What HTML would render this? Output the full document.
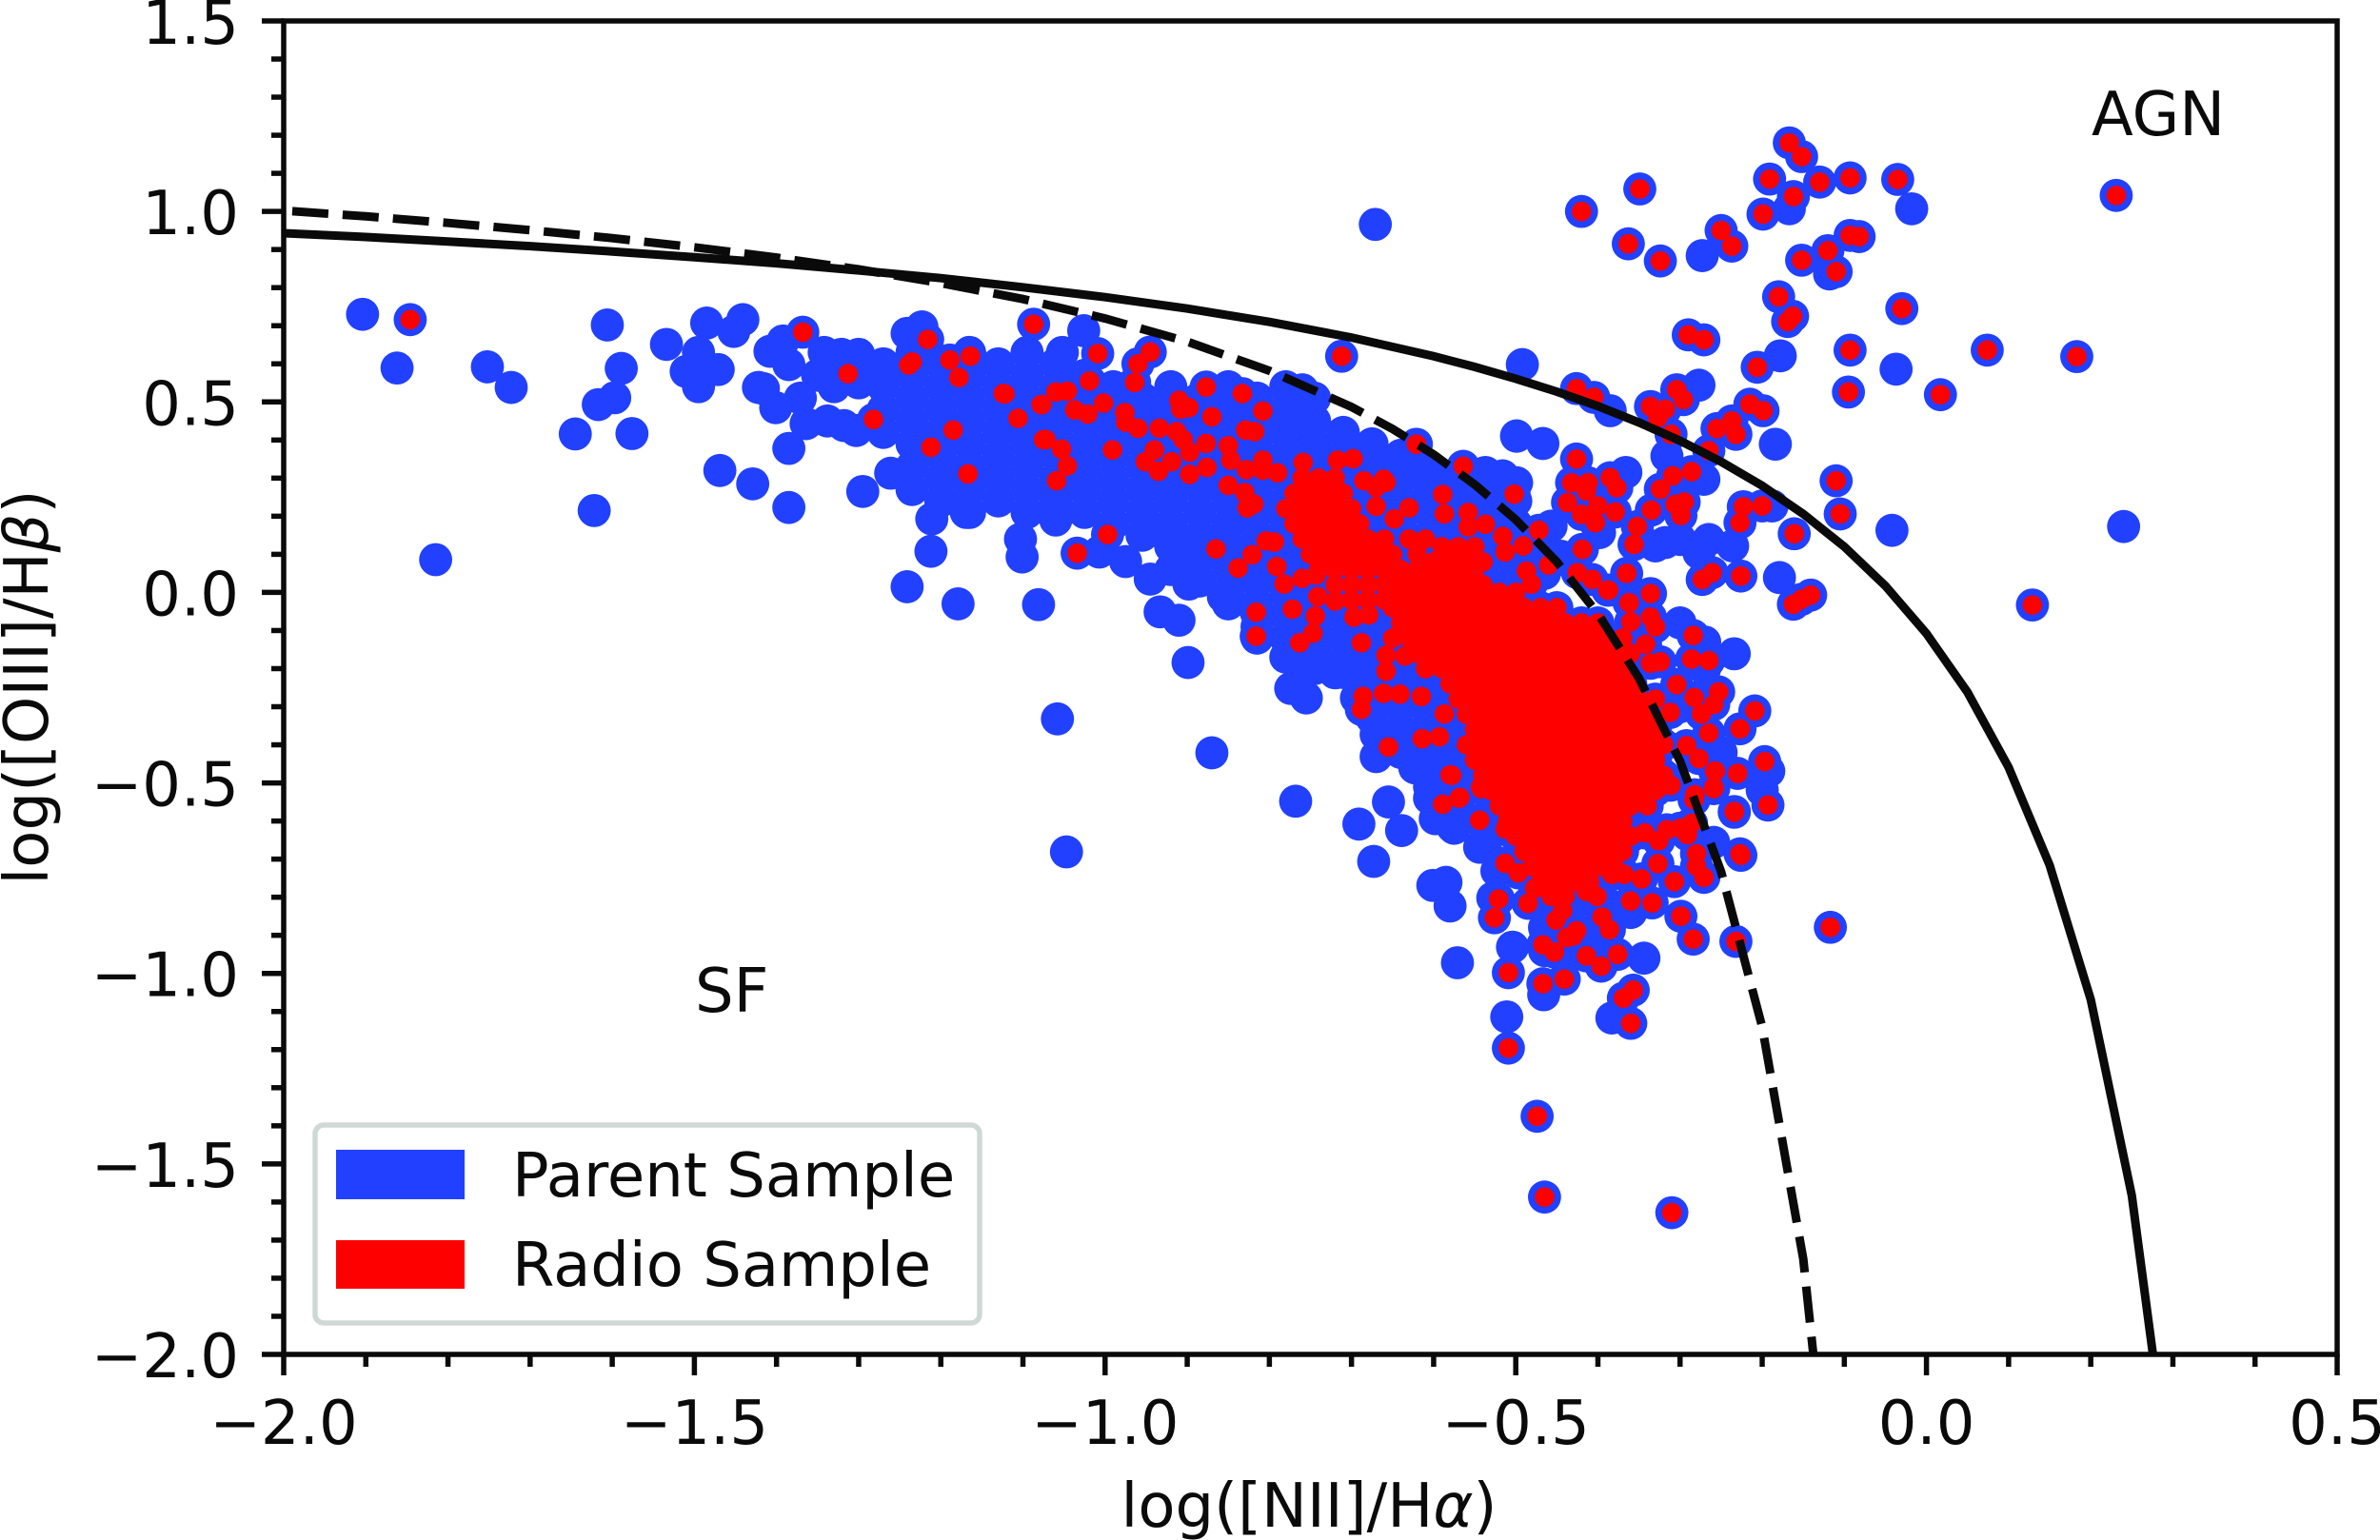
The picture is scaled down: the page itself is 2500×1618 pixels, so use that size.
<!DOCTYPE html>
<html lang="en">
<head>
<meta charset="utf-8">
<title>BPT diagram</title>
<style>
html,body{margin:0;padding:0;background:#fff;width:2500px;height:1618px;overflow:hidden;}
#stage{display:block;width:2500px;height:1618px;}
text{font-family:"DejaVu Sans","Liberation Sans",sans-serif;fill:#0a0a0a;font-size:64px;}
</style>
</head>
<body>
<svg id="stage" xmlns="http://www.w3.org/2000/svg" width="2500" height="1618" viewBox="0 0 2500 1618">
<defs><clipPath id="plot-clip"><rect x="298" y="22" width="2157" height="1401"/></clipPath></defs>
<rect x="0" y="0" width="2500" height="1618" fill="#fff"/>
<g id="parent-layer"></g>
<g id="radio-layer"></g>
<g id="curve-layer" clip-path="url(#plot-clip)"></g>
<g id="tick-layer"></g>
<rect x="298" y="22" width="2157" height="1401" fill="none" stroke="#0a0a0a" stroke-width="5.5"/>
<text x="1375" y="1604" text-anchor="middle">log([NII]/H<tspan font-style="italic">α</tspan>)</text>
<text transform="translate(50,722) rotate(-90)" text-anchor="middle">log([OIII]/H<tspan font-style="italic">β</tspan>)</text>
<text x="2197" y="142">AGN</text>
<text x="730" y="1063">SF</text>
<g>
<rect x="331" y="1182" width="698" height="208" rx="9" ry="9" fill="#fff" stroke="#d0d8d6" stroke-width="5.5"/>
<rect x="353" y="1208" width="135" height="52" fill="#2140ff"/>
<text x="538" y="1257">Parent Sample</text>
<rect x="353" y="1303" width="135" height="51" fill="#ff0000"/>
<text x="538" y="1351">Radio Sample</text>
</g>
</svg>
<script>
const xMajorTicks = [-2, -1.5, -1, -0.5, 0, 0.5];
const xTickLabels = ["−2.0", "−1.5", "−1.0", "−0.5", "0.0", "0.5"];
const xMinorTicks = [-1.9,-1.8,-1.7,-1.6,-1.4,-1.3,-1.2,-1.1,-0.9,-0.8,-0.7,-0.6,-0.4,-0.3,-0.2,-0.1,0.1,0.2,0.3,0.4];
const yMajorTicks = [-2, -1.5, -1, -0.5, 0, 0.5, 1, 1.5];
const yTickLabels = ["−2.0", "−1.5", "−1.0", "−0.5", "0.0", "0.5", "1.0", "1.5"];
const yMinorTicks = [-1.9,-1.8,-1.7,-1.6,-1.4,-1.3,-1.2,-1.1,-0.9,-0.8,-0.7,-0.6,-0.4,-0.3,-0.2,-0.1,0.1,0.2,0.3,0.4,0.6,0.7,0.8,0.9,1.1,1.2,1.3,1.4];

const kewleyX = [-2,-1.9,-1.8,-1.7,-1.6,-1.5,-1.4,-1.3,-1.2,-1.1,-1,-.9,-.8,-.7,-.6,-.55,-.5,-.45,-.4,-.35,-.3,-.25,-.2,-.15,-.1,-.05,0,.05,.1,.15,.2,.25,.288];
const kewleyY = [.943,.933,.921,.909,.895,.880,.864,.845,.825,.801,.775,.745,.710,.669,.620,.592,.561,.527,.489,.446,.398,.343,.280,.206,.120,.017,-.108,-.262,-.459,-.716,-1.069,-1.583,-2.2];
const kauffmannX = [-2,-1.9,-1.8,-1.7,-1.6,-1.5,-1.4,-1.3,-1.2,-1.1,-1,-.9,-.8,-.7,-.65,-.6,-.55,-.5,-.45,-.4,-.35,-.3,-.25,-.2,-.15,-.128];
const kauffmannY = [1.002,.987,.970,.951,.930,.906,.879,.848,.812,.770,.719,.658,.582,.487,.429,.362,.283,.191,.080,-.056,-.225,-.443,-.733,-1.140,-1.750,-2.2];

const parentOnlyPoints = [
[-1.904,.73],[-1.862,.589],[-1.752,.592],[-1.723,.538],[-1.606,.702],[-1.534,.651],[-1.485,.707],[-1.441,.716],[-1.452,.685],[-1.495,.63],[-1.51,.58],[-1.471,.585],[-1.495,.54],[-1.589,.588],[-1.597,.511],[-1.617,.493],[-1.645,.416],[-1.576,.417],[-1.469,.32],[-1.429,.285],[-1.385,.223],[-1.385,.378],[-1.622,.215],[-1.815,.086],[-1.295,.265],[-1.241,.015],[-1.179,-.03],[-1.081,-.032],[-1.212,.108],[-1.101,.093],[-1.103,.14],[-1.211,.193],[-1.169,.21],[-1.261,.313],[-1.408,.633],[-1.392,.66],[-1.385,.598],[-1.342,.63],[-1.321,.625],[-1.3,.625],[-1.422,.538],[-1.416,.535],[-1.401,.485],[-1.371,.51],[-1.364,.443],[-1.338,.45],[-1.318,.438],[-1.303,.425],[-1.35,.57],[-1.33,.54],[-1.30,.55],[-1.273,.58],[-1.241,.68],[-1.223,.697],[-1.217,.655],[-1.026,.687],[-1.052,.63],[-.76,.532],
[-.671,.966],[-.018,1.007],[-.167,1.007],[-.273,.884],[-.118,.836],[-.037,.586],[-.178,.621],[-.492,.598],[-.385,.477],[-.277,.544],[-.184,.389],[-.316,.358],[-.499,.411],[-.467,.391],[-.042,.163],[.24,.173],[-.188,.227],[-.271,.297],[-.33,.122],[-.3,.139],[-.265,.139],[-.236,.122],[-.318,.131],[-.277,.104],[-.179,.039],[-.366,.315],[-.519,.297],[-.499,.288],[-.537,.315],[-.457,.174],[-.398,.157],[-.445,.095],
[-.768,-.548],[-.691,-.608],[-.655,-.55],[-.639,-.625],[-.673,-.706],[-.601,-.769],[-.585,-.761],[-.58,-.823],[-.571,-.972],[-.504,-.931],[-.511,-1.114],[-.344,-.96],[-.383,-1.117],[-.466,-1.056],[-.544,-.669],[-.622,-.461],[-.598,-.594],[-.577,-.615],[-.523,-.731],[-.528,-.802],[-.259,-.656],[-.192,-.469],[-.2,-.519],
[-1.058,-.332],[-.87,-.421],[-1.047,-.681],[-.933,-.051],[-.91,-.073],[-.899,-.184],[-.774,-.252],[-.755,-.277],[-.898,.022],[-.856,-.011],[-.945,.035],[-.975,.081],[-1.007,.106],[-.951,.164],[-.921,.131],[-.9,.122],[-.762,-.177],[-.72,-.211],[-.697,-.202],[-.694,-.277],[-.685,-.31],[-.67,-.373],[-.67,-.431],[-.623,-.46],[-.596,-.552],[-.575,-.619],[-.537,-.669],[-.234,-.161],[-.27,-.13],[-.3,-.08],[-.27,-.2],[-.3,-.3],[-.25,-.42],[-.499,.41],[-.635,.36],[-.632,.322],[-.567,.314],[-.516,.306]
];

const parentDenseColumns = [
[-1.27,[.60,.54,.48,.42]],
[-1.235,[.63,.57,.51,.45,.39,.33,.27]],
[-1.2,[.60,.54,.48,.42,.36,.30,.24]],
[-1.165,[.63,.57,.51,.45,.39,.33,.27,.21]],
[-1.13,[.60,.54,.48,.42,.36,.30,.24]],
[-1.095,[.63,.57,.51,.45,.39,.33,.27,.21]],
[-1.06,[.60,.54,.48,.42,.36,.30,.24,.19]],
[-1.025,[.57,.51,.45,.39,.33,.27,.21]],
[-.99,[.54,.48,.42,.36,.30,.24,.18]],
[-.955,[.51,.45,.39,.33,.27,.21,.15]],
[-.92,[.54,.48,.42,.36,.30,.24,.18,.12,.06]],
[-.885,[.51,.45,.39,.33,.27,.21,.15,.09,.03]],
[-.85,[.54,.48,.42,.36,.30,.24,.18,.12,.06,0,-.03]],
[-.815,[.51,.45,.39,.33,.27,.21,.15,.09,.03,-.03,-.09,-.12]],
[-.78,[.54,.48,.42,.36,.30,.24,.18,.12,.06,0,-.06,-.12,-.17]],
[-.745,[.51,.45,.39,.33,.27,.21,.15,.09,.03,-.03,-.09,-.15,-.20]],
[-.71,[.42,.36,.30,.24,.18,.12,.06,0,-.06,-.12,-.18,-.21]],
[-.675,[.39,.33,.27,.21,.15,.09,.03,-.03,-.09,-.15,-.21,-.27,-.33]],
[-.64,[.36,.30,.24,.18,.12,.06,0,-.06,-.12,-.18,-.24,-.30,-.36,-.42]],
[-.605,[.33,.27,.21,.15,.09,.03,-.03,-.09,-.15,-.21,-.27,-.33,-.39,-.45,-.51,-.54]],
[-.57,[.30,.24,.18,.12,.06,0,-.06,-.12,-.18,-.24,-.30,-.36,-.42,-.48,-.54,-.60]],
[-.535,[.27,.21,.15,.09,.03]],
[-.5,[.24,.18,.12,.06,0]],
[-.465,[.12,.05,-.82,-.88,-.94]],
[-.43,[.08,-.82,-.88,-.95]],
[-.395,[-.80,-.86,-.92]],
[-.36,[-.84]]
];

const radioPoints = [
[-1.846,.716],[-1.368,.683],[-1.313,.574],[-1.282,.454],[-1.216,.664],[-1.235,.605],[-1.239,.597],[-1.189,.61],[-1.164,.62],[-1.178,.564],[-1.124,.522],[-1.087,.704],[-1.078,.493],[-1.106,.457],[-1.185,.426],[-1.212,.381],[-1.075,.401],[-1.167,.311],[-1.009,.627],[-.945,.631],[-.712,.62],[-.96,.6],
[-.167,1.18],[-.152,1.144],[-.191,1.085],[-.13,1.077],[-.093,1.088],[-.035,1.084],[-.162,1.039],[-.199,.993],[-.349,1.059],[-.42,1.0],[-.363,.915],[-.324,.87],[-.25,.95],[-.237,.909],[.231,1.042],[-.093,.937],[-.082,.934],[-.12,.897],[-.152,.872],[-.11,.842],[-.18,.776],[-.163,.725],[-.169,.711],[-.03,.745],[-.29,.676],[-.271,.663],[-.093,.636],[-.095,.526],[.074,.636],[.183,.619],[.017,.519],[-.206,.591],[-.426,.535],[-.405,.512],[-.304,.532],[-.296,.506],[-.336,.488],[-.318,.481],[-.327,.459],[-.311,.415],[-.215,.494],[-.199,.477],[-.237,.45],[-.255,.43],[-.232,.415],[-.265,.372],[-.426,.35],[-.11,.293],[-.105,.206],[.129,-.033],[-.161,.154],[-.223,.225],[-.2,.227],[-.227,.183],[-.286,.317],[-.309,.306],[-.324,.271],[-.295,.237],[-.306,.231],[-.299,.202],[-.335,.216],[-.352,.173],[-.356,.126],[-.261,.052],[-.273,.034],[-.226,.043],[-.141,-.007],[-.152,-.018],[-.162,-.031],[-.432,.288],[-.412,.288],[-.414,.266],[-.385,.301],[-.377,.275],[-.437,.236],[-.4,.227],[-.42,.205],[-.403,.183],[-.379,.211],[-.502,.258],[-.472,.163],[-.419,.113],[-.365,.05],[-.387,.006],[-.336,-.003],[-.362,-.027],[-.425,.052],[-.407,.034],
[-1.122,.521],[-1.06,.526],[-1.046,.528],[-1.077,.493],[-1.037,.479],[-1.021,.468],[-1.002,.497],[-1.019,.555],[-.964,.551],[-.877,.539],[-.833,.522],[-.91,.504],[-.898,.485],[-.908,.481],[-.87,.461],[-.808,.476],[-.976,.472],[-.975,.447],[-.96,.431],[-.934,.431],[-.913,.422],[-.905,.401],[-.829,.426],[-.818,.422],[-1.072,.401],[-1.053,.376],[-1.046,.332],[-1.059,.293],[-.991,.374],[-.94,.374],[-.951,.343],[-.919,.343],[-.935,.318],[-.897,.31],[-.876,.328],[-.897,.368],[-.877,.391],[-.85,.385],[-.847,.347],[-.828,.322],[-.808,.347],[-.808,.321],[-.85,.281],[-.79,.314],[-.759,.341],[-.83,.262],[-.819,.232],[-.827,.222],[-.717,.347],[-.698,.351],[-.621,.389],[-.564,.331],[-.589,.257],[-.587,.206],[-.661,.297],[-.685,.293],[-.67,.276],[-.658,.289],[-.63,.222],[-.67,.226],[-.648,.193],[-.558,.21],[-.537,.179],[-.558,.172],[-.516,.147],[-.513,.106],[-.491,.122],[-.46,.072],[-.487,.056],[-.481,.022],[-.388,.006],[-.362,-.027],[-.284,-.113],[-.286,-.175],[-.265,-.179],[-.304,-.242],[-.253,-.261],[-.283,-.276],[-.259,-.294],[-.227,-.358],[-.23,-.475],[-.234,-.577],[-.227,-.686],[-.265,-.369],[-.274,-.319],[-.312,-.315],[-.336,-.065],[-.33,-.09],[-.36,-.077],[-.342,-.136],[-.324,-.182],[-.336,-.186],[-.292,-.402],[-.277,-.436],[-.258,-.469],[-.259,-.515],[-.315,-.506],[-.283,-.544],[-.286,-.606],[-.209,-.311],
[-.997,.152],[-1.034,.103],[-.865,.114],[-.804,.135],[-.821,.099],[-.794,.132],[-.838,.064],[-.791,.068],[-.782,.022],[-.76,.037],[-.743,.046],[-.741,-.011],[-.72,-.023],[-.816,-.052],[-.816,-.115],[-.772,-.044],[-.744,-.062],[-.747,-.107],[-.763,-.132],[-.688,-.132],[-.697,-.065],[-.679,-.059],[-.686,-.273],[-.688,-.307],[-.661,-.265],[-.641,-.267],[-.658,-.207],[-.658,-.165],[-.635,-.167],[-.614,-.384],[-.593,-.379],[-.655,-.406],[-.578,-.48],[-.587,-.319],[-.569,-.54],[-.589,-.556],[-.543,-.511],[-.615,-.273],
[-.58,-.479],[-.568,-.538],[-.544,-.598],[-.542,-.515],[-.513,-.621],[-.513,-.711],[-.521,-.805],[-.526,-.854],[-.485,-.816],[-.509,-.998],[-.467,-1.027],[-.441,-1.015],[-.396,-.981],[-.376,-.95],[-.414,-.954],[-.453,-.944],[-.467,-.925],[-.43,-.902],[-.426,-.888],[-.438,-.906],[-.451,-.86],[-.443,-.835],[-.395,-.852],[-.386,-.885],[-.36,-.81],[-.334,-.815],[-.299,-.85],[-.284,-.91],[-.232,-.916],[-.117,-.879],[-.307,-.759],[-.271,-.748],[-.347,-.752],[-.368,-.74],[-.383,-.74],[-.327,-.712],[-.28,-.719],[-.28,-.686],[-.291,-.636],[-.3,-.619],[-.343,-.631],[-.326,-.652],[-.316,-.623],[-.226,-.69],[-.234,-.575],[-.193,-.558],[-.259,-.511],[-.282,-.531],[-.257,-.469],[-.311,-.506],[-.401,-.798],[-.414,-.785],[-.457,-.798],[-.44,-.798],[-.477,-.777],[-.497,-.736],[-.357,-1.044],[-.369,-1.065],[-.36,-1.131],[-.509,-1.196],[-.474,-1.375],[-.465,-1.587],[-.31,-1.628],[-.197,-.444]
];

const radioDenseRows = [
[.30,[-.76,-.74,-.72]],
[.26,[-.77,-.75,-.73,-.71]],
[.22,[-.78,-.76,-.74,-.72,-.70]],
[.18,[-.77,-.75,-.73,-.71,-.69]],
[.14,[-.76,-.74,-.72,-.70,-.68,-.66,-.63,-.61]],
[.12,[-.59,-.57,-.55]],
[.10,[-.75,-.73,-.71,-.69,-.67,-.65,-.62]],
[.08,[-.60,-.58,-.56,-.54]],
[.06,[-.74,-.72,-.70,-.68,-.66,-.64,-.62,-.60,-.58]],
[.04,[-.65,-.63,-.61,-.59,-.57,-.55]],
[.02,[-.72,-.70,-.68,-.66,-.64,-.62,-.60,-.58,-.56,-.54]],
[0,[-.64,-.62,-.60,-.58,-.56,-.54,-.52,-.50]],
[-.02,[-.70,-.68,-.66]],
[-.04,[-.65,-.63,-.61,-.59,-.57,-.55,-.53,-.51,-.49,-.47,-.45]],
[-.08,[-.64,-.62,-.60,-.58,-.56,-.54,-.52,-.50,-.48,-.46,-.44,-.42,-.40]],
[-.12,[-.65,-.63,-.61,-.59,-.57,-.55,-.53,-.51,-.49,-.47,-.45,-.43,-.41,-.39,-.37]],
[-.16,[-.62,-.60,-.58,-.56,-.54,-.52,-.50,-.48,-.46,-.44,-.42,-.40,-.38,-.36]],
[-.20,[-.61,-.59,-.57,-.55,-.53,-.51,-.49,-.47,-.45,-.43,-.41,-.39,-.37]],
[-.24,[-.58,-.56,-.54,-.52,-.50,-.48,-.46,-.44,-.42,-.40,-.38,-.36]],
[-.28,[-.57,-.55,-.53,-.51,-.49,-.47,-.45,-.43,-.41,-.39,-.37,-.35,-.33]],
[-.32,[-.56,-.54,-.52,-.50,-.48,-.46,-.44,-.42,-.40,-.38,-.36,-.34]],
[-.36,[-.55,-.53,-.51,-.49,-.47,-.45,-.43,-.41,-.39,-.37,-.35,-.33]],
[-.40,[-.56,-.54,-.52,-.50,-.48,-.46,-.44,-.42,-.40,-.38,-.36,-.34,-.32]],
[-.44,[-.55,-.53,-.51,-.49,-.47,-.45,-.43,-.41,-.39,-.37,-.35,-.33]],
[-.48,[-.54,-.52,-.50,-.48,-.46,-.44,-.42,-.40,-.38,-.36,-.34,-.32]],
[-.52,[-.53,-.51,-.49,-.47,-.45,-.43,-.41,-.39,-.37,-.35,-.33]],
[-.56,[-.52,-.50,-.48,-.46,-.44,-.42,-.40,-.38,-.36,-.34]],
[-.60,[-.51,-.49,-.47,-.45,-.43,-.41,-.39,-.37]],
[-.64,[-.50,-.48,-.46,-.44,-.42,-.40,-.38,-.36]],
[-.68,[-.49,-.47,-.45,-.43,-.41,-.39,-.37]],
[-.72,[-.48,-.46,-.44,-.42,-.40,-.38]],
[-.76,[-.47,-.45,-.43,-.41]]
];

const SVG_NS = "http://www.w3.org/2000/svg";
const plotLeft = 298, plotRight = 2455, plotTop = 22, plotBottom = 1423;
const xDomainMin = -2, xDomainMax = 0.5, yDomainMin = -2, yDomainMax = 1.5;
function xScale(v) { return plotLeft + (v - xDomainMin) / (xDomainMax - xDomainMin) * (plotRight - plotLeft); }
function yScale(v) { return plotBottom - (v - yDomainMin) / (yDomainMax - yDomainMin) * (plotBottom - plotTop); }
function make(tag, attrs, parent) {
  const el = document.createElementNS(SVG_NS, tag);
  for (const k in attrs) el.setAttribute(k, attrs[k]);
  parent.appendChild(el);
  return el;
}
const parentLayer = document.getElementById("parent-layer");
const radioLayer = document.getElementById("radio-layer");
const curveLayer = document.getElementById("curve-layer");
const tickLayer = document.getElementById("tick-layer");

function addParent(x, y) {
  const c = make("circle", {cx: xScale(x), cy: yScale(y), r: 17.4, fill: "#2140ff"}, parentLayer);
  
  
}
function addRadio(x, y) {
  const c = make("circle", {cx: xScale(x), cy: yScale(y), r: 10.3, fill: "#ff0000"}, radioLayer);
  
  
}
parentOnlyPoints.forEach(p => addParent(p[0], p[1]));
parentDenseColumns.forEach(col => col[1].forEach(y => addParent(col[0], y)));
radioPoints.forEach(p => { addParent(p[0], p[1]); addRadio(p[0], p[1]); });
radioDenseRows.forEach(row => row[1].forEach(x => { addParent(x, row[0]); addRadio(x, row[0]); }));

function curvePath(xs, ys) {
  return xs.map((x, i) => (i ? "L" : "M") + xScale(x).toFixed(1) + " " + yScale(ys[i]).toFixed(1)).join(" ");
}
const kewleyLine = make("path", {d: curvePath(kewleyX, kewleyY), fill: "none", stroke: "#0a0a0a", "stroke-width": 9}, curveLayer);


const kauffmannLine = make("path", {d: curvePath(kauffmannX, kauffmannY), fill: "none", stroke: "#0a0a0a", "stroke-width": 9, "stroke-dasharray": "38 15", "stroke-dashoffset": 44}, curveLayer);



function addTick(x1, y1, x2, y2, name) {
  const t = make("line", {x1: x1, y1: y1, x2: x2, y2: y2, stroke: "#0a0a0a", "stroke-width": 5.5}, tickLayer);
  
  
}
function addLabel(x, y, anchor, str, name) {
  const t = make("text", {x: x, y: y, "text-anchor": anchor}, tickLayer);
  t.textContent = str;
  
  
}
xMajorTicks.forEach((v, i) => {
  addTick(xScale(v), plotBottom, xScale(v), plotBottom + 22, 'x-major-tick');
  addLabel(xScale(v), 1517, "middle", xTickLabels[i], 'x-tick-label');
});
xMinorTicks.forEach(v => addTick(xScale(v), plotBottom, xScale(v), plotBottom + 13, 'x-minor-tick'));
yMajorTicks.forEach((v, i) => {
  addTick(plotLeft, yScale(v), plotLeft - 23, yScale(v), 'y-major-tick');
  addLabel(251, yScale(v) + 24, "end", yTickLabels[i], 'y-tick-label');
});
yMinorTicks.forEach(v => addTick(plotLeft, yScale(v), plotLeft - 13, yScale(v), 'y-minor-tick'));
</script>
</body>
</html>
